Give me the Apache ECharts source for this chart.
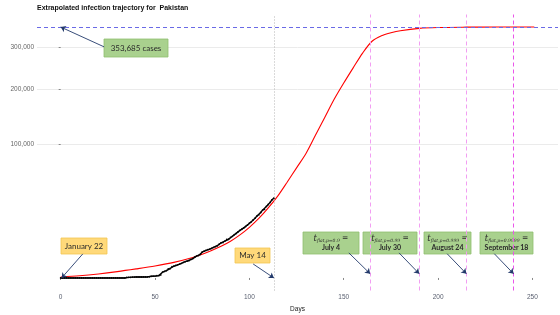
<!DOCTYPE html>
<html>
<head>
<meta charset="utf-8">
<script src="https://cdn.jsdelivr.net/npm/echarts@6/dist/echarts.min.js"></script>
<style>html,body{margin:0;padding:0;background:#fff}#c{width:560px;height:315px}</style>
</head>
<body>
<div id="c"></div>
<script>
// ---- data ----
const titleText = 'Extrapolated infection trajectory for  Pakistan';
const finalSize = 353685;
// observed cumulative cases, day 0 = January 22
const observedCases = [
  0,0,0,0,0,0,0,0,0,0, 0,0,0,0,0,0,0,0,0,0, 0,0,0,0,0,0,0,0,0,0, 0,0,0,0,0,
  2,2,2,4,4,5,5,5,5,6,6,6,7,16,19,20,28,31,53,
  187,237,299,454,501,730,776,875,972,1063,
  1201,1373,1495,1597,1717,1938,2118,2421,2686,2818,
  3157,3766,4035,4263,4489,4695,4892,5230,5496,5837,
  6383,6919,7025,7638,8348,8418,9216,9749,10513,11155,
  11940,12723,13328,14079,14885,15759,16817,17699,18926,20084,
  21501,22413,24073,25837,26435,28736,30334,32081,34336,35788
];
// extrapolated trajectory
const fitDays  = [0,10,20,30,40,50,60,70,75,80,85,90,95,100,105,110,115,120,125,130,135,140,145,150,155,160,165,170,175,180,190,200,215,230,251];
const fitCases = [6,27,90,225,462,812,1369,2352,3136,4225,5625,7569,10404,14400,19881,27556,37636,51529,68121,87025,114244,145161,179776,213444,248004,284089,314721,329476,337561,343396,349990,352361,353311,353609,353680];
const yTicks = [100000, 200000, 300000];
const xTicks = [0, 50, 100, 150, 200, 250];
const lastObservedDay = 113;           // May 14
const flatDays   = [164, 190, 215, 240];
const flatP      = ['0.9', '0.99', '0.999', '0.9999'];
const flatLabels = ['July 4', 'July 30', 'August 24', 'September 18'];

// ---- chart ----
const sq = v => Math.sqrt(v);
const chart = echarts.init(document.getElementById('c'), null, {renderer: 'canvas'});
const axisFont = 'Liberation Sans';
const navy = '#233a6b';

function refLine(name, items, color, type) {
  return {
    name: name, type: 'line', data: [], z: 2, silent: true,
    color: color, itemStyle: {color: color}, lineStyle: {color: color},
    markLine: {
      silent: true, symbol: 'none', label: {show: false},
      lineStyle: {color: color, width: 1, type: type},
      emphasis: {disabled: true},
      data: items
    }
  };
}

const option = {
  animation: false,
  backgroundColor: '#fff',
  title: {
    text: titleText, left: 32, top: 0,
    textStyle: {fontSize: 7, fontWeight: 'bold', color: '#111', fontFamily: axisFont}
  },
  grid: {left: 37, right: 2, top: 14.5, bottom: 24.5, containLabel: false, outerBoundsMode: 'none'},
  xAxis: {
    type: 'value', min: -12.55, max: 263.55,
    name: 'Days', nameLocation: 'middle', nameGap: 11,
    nameTextStyle: {fontSize: 6.5, color: '#222', fontFamily: axisFont},
    axisLine: {show: false},
    axisTick: {show: true, length: 2, lineStyle: {color: '#888'}, customValues: xTicks},
    axisLabel: {fontSize: 6.5, color: '#5a6070', margin: 3.5, fontFamily: axisFont, customValues: xTicks},
    splitLine: {show: false}
  },
  yAxis: {
    type: 'value', min: -29.7, max: 624.4,
    name: 'Cumulative number of infected cases', nameLocation: 'middle', nameGap: 30,
    nameTextStyle: {fontSize: 6.5, color: '#222', fontFamily: axisFont},
    axisLine: {show: false},
    axisTick: {show: true, length: 2, lineStyle: {color: '#888'}, customValues: yTicks.map(sq)},
    axisLabel: {
      fontSize: 6.5, color: '#666', margin: 3, fontFamily: axisFont,
      customValues: yTicks.map(sq),
      formatter: v => Math.round(v * v).toLocaleString('en-US')
    },
    splitLine: {show: true, lineStyle: {color: '#ebebeb', width: 1}}
  },
  series: [
    refLine('may14', [{xAxis: lastObservedDay}], '#b5b5b5', [1, 2]),
    refLine('flatLight', flatDays.slice(0, 3).map(d => ({xAxis: d})), '#f29ef2', [4, 3]),
    refLine('flatStrong', flatDays.slice(3).map(d => ({xAxis: d})), '#ea55ea', [4, 3]),
    refLine('asymptote', [{yAxis: sq(finalSize)}], '#6a6ae6', [4, 3]),
    {
      name: 'fit', type: 'line', z: 3,
      data: fitDays.map((d, i) => [d, sq(fitCases[i])]),
      smooth: 0.3,
      showSymbol: false,
      lineStyle: {color: '#ff0000', width: 1.1}
    },
    {
      name: 'observed', type: 'line', z: 4,
      data: observedCases.map((v, i) => [i, sq(v)]),
      symbol: 'circle', symbolSize: 1.8, showSymbol: true,
      itemStyle: {color: '#000'},
      lineStyle: {color: '#000', width: 1.4}
    },
    {
      name: 'arrows', type: 'line', data: [], z: 6,
      markLine: {
        silent: true, symbol: ['none', 'arrow'], symbolSize: 5,
        label: {show: false},
        lineStyle: {color: navy, width: 0.9, type: 'solid'},
        data: [
          [{coord: [23, sq(300000)]}, {coord: [0, sq(finalSize)]}],
          [{coord: [11.7, sq(3250)]}, {coord: [0.5, sq(0)]}],
          [{coord: [102, sq(1100)]}, {coord: [113, sq(0)]}],
          [{coord: [152.7, sq(3540)]}, {coord: [164, sq(100)]}],
          [{coord: [179.3, sq(3540)]}, {coord: [190, sq(100)]}],
          [{coord: [204.8, sq(3300)]}, {coord: [215, sq(100)]}],
          [{coord: [229.8, sq(3300)]}, {coord: [240, sq(100)]}]
        ]
      }
    }
  ]
};
chart.setOption(option);

// ---- annotation boxes ----
const green = '#a9d18e', greenEdge = '#8fbf6f';
const yellow = '#ffd97a', yellowEdge = '#f3c552';
function box(x, y, w, h, fill, edge, text, rich, fontSize) {
  return {
    type: 'group', z: 10, children: [
      {type: 'rect', shape: {x: x, y: y, width: w, height: h}, style: {fill: fill, stroke: edge, lineWidth: 0.8}},
      {type: 'text', style: {
        x: x + w / 2, y: y + h / 2, text: text, align: 'center', verticalAlign: 'middle',
        fill: '#2b2b2b', font: (fontSize || 8) + 'px Lato', rich: rich || undefined, lineHeight: 9
      }}
    ]
  };
}
const graphics = [
  box(104, 39, 64, 18, green, greenEdge, '353,685 cases', null, 8),
  box(61, 238, 46, 16, yellow, yellowEdge, 'January 22', null, 8),
  box(235, 248, 35, 15, yellow, yellowEdge, 'May 14', null, 8)
];
const boxX = [303, 363, 424, 480];
const boxW = [56, 54, 47, 53];
const richT = {
  t: {fontFamily: 'DejaVu Serif', fontStyle: 'italic', fontSize: 8.5, fill: '#2b2b2b'},
  s: {fontFamily: 'DejaVu Serif', fontStyle: 'italic', fontSize: 4.5, fill: '#2b2b2b', verticalAlign: 'bottom', padding: [5, 0, 0, 0]},
  e: {fontFamily: 'DejaVu Serif', fontSize: 7.5, fill: '#2b2b2b'},
  b: {fontFamily: 'Lato', fontWeight: 'bold', fontSize: 7, fill: '#2b2b2b'}
};
flatDays.forEach((d, i) => {
  graphics.push(box(boxX[i], 232, boxW[i], 22, green, greenEdge,
    '{t|t}{s|flat,p=' + flatP[i] + '}{e| =}\n{b|' + flatLabels[i] + '}', richT, 7));
});
chart.setOption({graphic: graphics});
</script>
</body>
</html>
